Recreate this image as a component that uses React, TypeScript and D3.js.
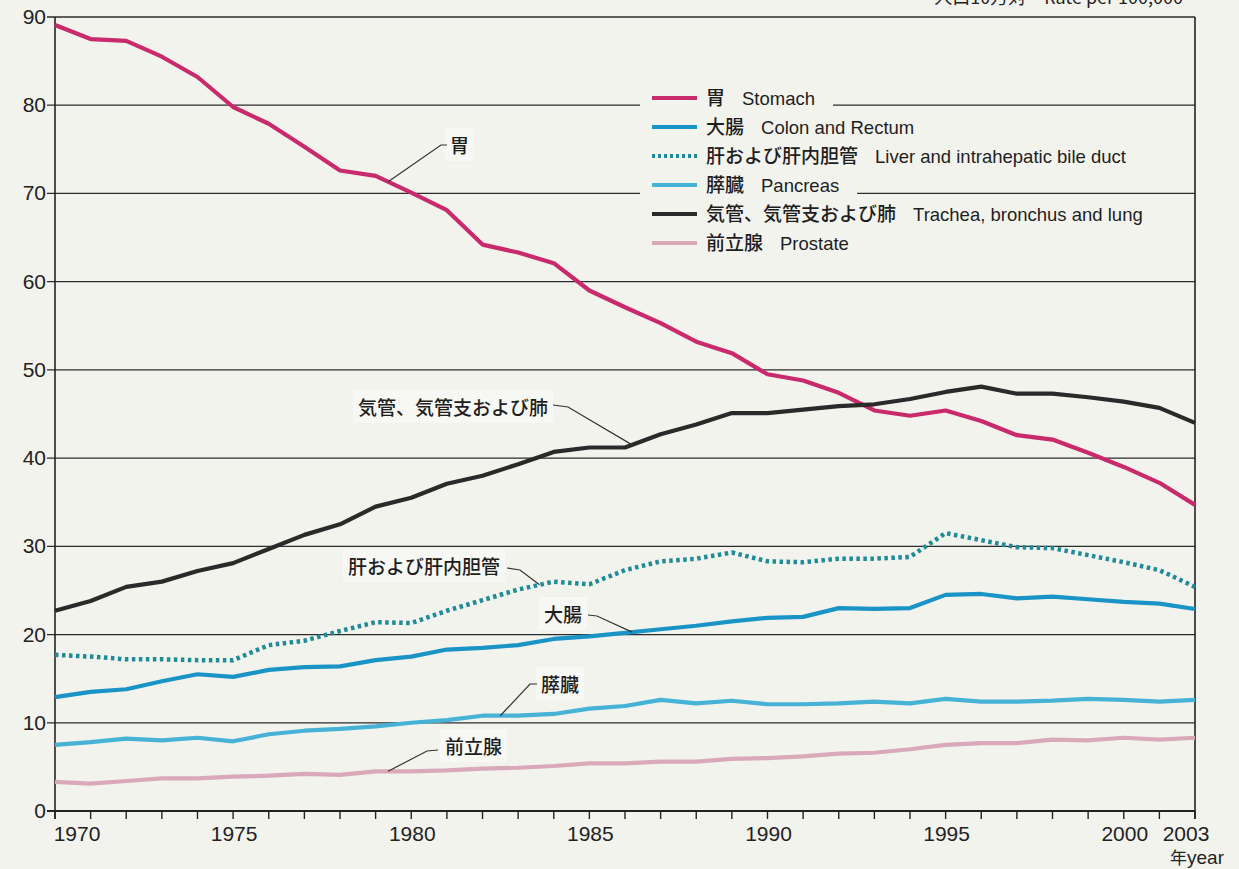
import React, { useEffect, useRef } from "react";
import * as d3 from "d3";

const years = ["1970","1971","1972","1973","1974","1975","1976","1977","1978","1979","1980","1981","1982","1983","1984","1985","1986","1987","1988","1989","1990","1991","1992","1993","1994","1995","1996","1997","1998","1999","2000","2001","2003"];
const labeledYears = ["1970","1975","1980","1985","1990","1995","2000","2003"];
const yTicks = [0,10,20,30,40,50,60,70,80,90];

const stomach = [89.1,87.5,87.3,85.5,83.2,79.8,77.9,75.3,72.6,72.0,70.1,68.1,64.2,63.3,62.1,59.0,57.1,55.3,53.2,51.9,49.5,48.8,47.4,45.4,44.8,45.4,44.2,42.6,42.1,40.6,39.0,37.2,34.7];
const colon = [12.9,13.5,13.8,14.7,15.5,15.2,16.0,16.3,16.4,17.1,17.5,18.3,18.5,18.8,19.5,19.8,20.2,20.6,21.0,21.5,21.9,22.0,23.0,22.9,23.0,24.5,24.6,24.1,24.3,24.0,23.7,23.5,22.9];
const liver = [17.7,17.5,17.2,17.2,17.1,17.1,18.8,19.3,20.4,21.4,21.3,22.7,23.9,25.1,26.0,25.7,27.3,28.3,28.6,29.3,28.3,28.2,28.6,28.6,28.8,31.5,30.7,29.9,29.8,29.0,28.2,27.3,25.4];
const pancreas = [7.5,7.8,8.2,8.0,8.3,7.9,8.7,9.1,9.3,9.6,10.0,10.3,10.8,10.8,11.0,11.6,11.9,12.6,12.2,12.5,12.1,12.1,12.2,12.4,12.2,12.7,12.4,12.4,12.5,12.7,12.6,12.4,12.6];
const lung = [22.7,23.8,25.4,26.0,27.2,28.1,29.7,31.3,32.5,34.5,35.5,37.1,38.0,39.3,40.7,41.2,41.2,42.7,43.8,45.1,45.1,45.5,45.9,46.1,46.7,47.5,48.1,47.3,47.3,46.9,46.4,45.7,44.0];
const prostate = [3.3,3.1,3.4,3.7,3.7,3.9,4.0,4.2,4.1,4.5,4.5,4.6,4.8,4.9,5.1,5.4,5.4,5.6,5.6,5.9,6.0,6.2,6.5,6.6,7.0,7.5,7.7,7.7,8.1,8.0,8.3,8.1,8.3];

const seriesNames = ["stomach","colon","liver","pancreas","lung","prostate"];
const seriesJa = ["胃","大腸","肝および肝内胆管","膵臓","気管、気管支および肺","前立腺"];
const seriesEn = ["Stomach","Colon and Rectum","Liver and intrahepatic bile duct","Pancreas","Trachea, bronchus and lung","Prostate"];
const seriesValues = [stomach, colon, liver, pancreas, lung, prostate];
const seriesColors = ["#c92a6b","#1a94c6","#1f8a98","#45b2d6","#2a2a2a","#d9a9b9"];

const W = 1239, H = 869;
const paper = "#f3f3ee";
const JP = "'Noto Sans CJK JP', 'Noto Sans', sans-serif";
const LAT = "'Liberation Sans', Arial, sans-serif";
const NARROW = "'Liberation Sans Narrow', 'Arial Narrow', 'Liberation Sans', sans-serif";

export default function App() {
  const ref = useRef<SVGSVGElement>(null);
  useEffect(() => {
    const svg = d3.select(ref.current);
    svg.selectAll("*").remove();

    const x = d3.scalePoint<string>().domain(years).range([55, 1195]);
    const y = d3.scaleLinear().domain([0, 90]).range([811, 17]);

    svg.append("rect").attr("width", W).attr("height", H).attr("fill", paper);

    // top-right unit text (cut by top edge, as in the reference)
    svg.append("text").attr("x", 1183).attr("y", 4).attr("text-anchor", "end")
      .attr("font-family", JP).attr("font-size", 18).attr("fill", "#222")
      .text("人口10万対　Rate per 100,000");

    // grid lines
    const g = svg.append("g");
    g.selectAll("line.grid").data(yTicks).join("line")
      .attr("x1", 47).attr("x2", 1195)
      .attr("y1", d => y(d)).attr("y2", d => y(d))
      .attr("stroke", "#2b2b2b").attr("stroke-width", 1.3);
    g.selectAll("text.yt").data(yTicks).join("text")
      .attr("x", 46).attr("y", d => y(d) + 7).attr("text-anchor", "end")
      .attr("font-family", NARROW).attr("font-size", 21).attr("fill", "#222")
      .text(d => String(d));

    // axes lines
    g.append("line").attr("x1", 55).attr("x2", 55).attr("y1", 17).attr("y2", 819)
      .attr("stroke", "#222").attr("stroke-width", 1.6);
    g.append("line").attr("x1", 1195).attr("x2", 1195).attr("y1", 17).attr("y2", 819)
      .attr("stroke", "#222").attr("stroke-width", 1.6);
    g.append("line").attr("x1", 47).attr("x2", 1195).attr("y1", y(0)).attr("y2", y(0))
      .attr("stroke", "#222").attr("stroke-width", 1.8);
    g.selectAll("line.xt").data(years).join("line")
      .attr("x1", d => x(d)!).attr("x2", d => x(d)!)
      .attr("y1", y(0)).attr("y2", y(0) + 8)
      .attr("stroke", "#222").attr("stroke-width", 1.4);
    g.selectAll("text.xl").data(labeledYears).join("text")
      .attr("x", d => d === "1970" ? x(d)! + 22 : d === "2003" ? x(d)! - 9 : x(d)! + 1)
      .attr("y", 841).attr("text-anchor", "middle")
      .attr("font-family", NARROW).attr("font-size", 21).attr("fill", "#222")
      .text(d => d);
    const yr = g.append("text").attr("x", 1170).attr("y", 864)
      .attr("font-family", NARROW).attr("font-size", 19).attr("fill", "#222");
    yr.append("tspan").attr("font-family", JP).attr("font-size", 17).text("年");
    yr.append("tspan").text("year");

    // legend
    const lg = svg.append("g");
    const rowY = (i: number) => 98 + i * 29;
    seriesNames.forEach((_, i) => {
      const row = lg.append("g");
      const bg = row.append("rect").attr("fill", paper);
      row.append("line").attr("x1", 652).attr("x2", 697)
        .attr("y1", rowY(i)).attr("y2", rowY(i))
        .attr("stroke", seriesColors[i]).attr("stroke-width", 4)
        .attr("stroke-dasharray", i === 2 ? "3,3" : null);
      const t = row.append("text").attr("x", 706).attr("y", rowY(i) + 7)
        .attr("fill", "#1e1e1e");
      t.append("tspan").attr("font-family", JP).attr("font-size", 19).attr("font-weight", 500).text(seriesJa[i]);
      t.append("tspan").attr("font-family", LAT).attr("font-size", 18.5).attr("dx", 17).text(seriesEn[i]);
      const bb = (t.node() as SVGTextElement).getBBox();
      bg.attr("x", 640).attr("y", rowY(i) - 12).attr("width", bb.x + bb.width + 18 - 640).attr("height", 24);
    });

    // lines
    const line = d3.line<number>().x((_, i) => x(years[i])!).y(d => y(d));
    seriesValues.forEach((vals, i) => {
      svg.append("path").datum(vals).attr("d", line)
        .attr("fill", "none").attr("stroke", seriesColors[i])
        .attr("stroke-width", i === 2 ? 4.5 : 4.2)
        .attr("stroke-linejoin", "round")
        .attr("stroke-dasharray", i === 2 ? "3.5,3.5" : null);
    });

    // annotations
    const step = x.step();
    const at = (si: number, t: number): [number, number] => {
      const i0 = Math.floor(t), f = t - i0;
      const v = seriesValues[si][i0] * (1 - f) + seriesValues[si][Math.min(i0 + 1, years.length - 1)] * f;
      return [x(years[0])! + t * step, y(v)];
    };
    const ann = [
      { s: 0, t: 9.35, pts: [[447, 145], [441, 145]], tx: 450, ty: 153, anchor: "start" },
      { s: 4, t: 16.2, pts: [[553, 405], [568, 407]], tx: 548, ty: 415, anchor: "end" },
      { s: 2, t: 13.6, pts: [[507, 568], [520, 570]], tx: 500, ty: 574, anchor: "end" },
      { s: 1, t: 16.2, pts: [[588, 615], [597, 616]], tx: 582, ty: 622, anchor: "end" },
      { s: 3, t: 12.5, pts: [[537, 684], [530, 684]], tx: 541, ty: 692, anchor: "start" },
      { s: 5, t: 9.35, pts: [[438, 750], [427, 751]], tx: 445, ty: 754, anchor: "start" },
    ];
    ann.forEach(a => {
      const target = at(a.s, a.t);
      const pts = [...a.pts, target] as [number, number][];
      const txt = svg.append("text").attr("x", a.tx).attr("y", a.ty)
        .attr("text-anchor", a.anchor).attr("font-family", JP).attr("font-size", 19)
        .attr("font-weight", 500).attr("fill", "#1e1e1e").text(seriesJa[a.s]);
      const bb = (txt.node() as SVGTextElement).getBBox();
      svg.insert("rect", () => txt.node() as any)
        .attr("x", bb.x - 5).attr("y", bb.y - 3).attr("width", bb.width + 10).attr("height", bb.height + 6)
        .attr("fill", "#f7f7f3");
      svg.append("path").attr("d", d3.line()(pts)).attr("fill", "none")
        .attr("stroke", "#333").attr("stroke-width", 1.2);
    });
  }, []);
  return (
    <svg ref={ref} width={W} height={H}
      style={{ position: "absolute", left: 0, top: 0, display: "block" }} />
  );
}
